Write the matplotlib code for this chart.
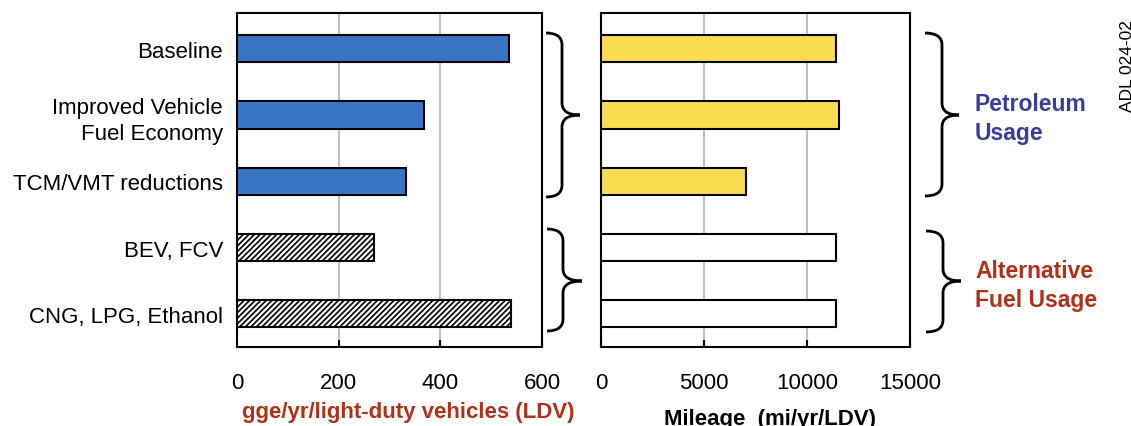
import matplotlib
matplotlib.use("Agg")
import matplotlib.pyplot as plt
from matplotlib.path import Path
from matplotlib.patches import PathPatch

plt.rcParams["font.family"] = ["Liberation Sans", "DejaVu Sans"]
plt.rcParams["hatch.linewidth"] = 1.2

categories = ["Baseline", "Improved Vehicle\nFuel Economy", "TCM/VMT reductions",
              "BEV, FCV", "CNG, LPG, Ethanol"]
fuel_use = [535, 368, 332, 270, 539]          # gge/yr/LDV
mileage = [11400, 11550, 7050, 11400, 11400]  # mi/yr/LDV
left_ticks = [0, 200, 400, 600]
right_ticks = [0, 5000, 10000, 15000]

W, H = 1131, 427
fig = plt.figure(figsize=(W / 100, H / 100), dpi=100)


def ax_rect(x0, x1, y0, y1):
    return [x0 / W, 1 - y1 / H, (x1 - x0) / W, (y1 - y0) / H]


ax1 = fig.add_axes(ax_rect(237, 542, 14, 348))
ax2 = fig.add_axes(ax_rect(601, 910, 14, 348))

ypos = list(range(len(categories)))
bar_h = 0.41

left_colors = ["#3a75c4"] * 3 + ["white"] * 2
left_hatch = [None] * 3 + ["//////"] * 2
for y, v, c, h in zip(ypos, fuel_use, left_colors, left_hatch):
    ax1.barh(y, v, height=bar_h, color=c, edgecolor="black", linewidth=1.5,
             hatch=h, zorder=3)

right_colors = ["#fcdc50"] * 3 + ["white"] * 2
ax2.barh(ypos, mileage, height=bar_h, color=right_colors, edgecolor="black",
         linewidth=1.5, zorder=3)

for ax, ticks in ((ax1, left_ticks), (ax2, right_ticks)):
    ax.set_xlim(ticks[0], ticks[-1])
    ax.set_xticks(ticks)
    ax.set_ylim(4.5, -0.54)
    ax.grid(axis="x", color="#c0c0c0", linewidth=1.5, zorder=0)
    ax.tick_params(axis="x", direction="in", length=5, width=1.5, pad=18,
                   labelsize=16)
    for s in ax.spines.values():
        s.set_linewidth(1.5)

ax1.set_yticks(ypos)
ax1.set_yticklabels(categories, fontsize=16, linespacing=1.35)
ax1.tick_params(axis="y", length=0, pad=10)
ax2.set_yticks([])

fig.text(408 / W, 1 - 413 / H, "gge/yr/light-duty vehicles (LDV)",
         ha="center", va="center", fontsize=16, fontweight="bold",
         color="#b03018")
fig.text(770 / W, 1 - 420 / H, "Mileage  (mi/yr/LDV)", ha="center",
         va="center", fontsize=16, fontweight="bold", color="black")


def brace(x0, x1, x2, yt, ym, yb, r=12):
    pts = [(x0, yt), (x1, yt), (x1, yt + r), (x1, yt + r),
           (x1, ym - r), (x1, ym), (x2, ym),
           (x1, ym), (x1, ym + r), (x1, ym + r),
           (x1, yb - r), (x1, yb), (x0, yb)]
    codes = [Path.MOVETO, Path.CURVE3, Path.CURVE3, Path.LINETO,
             Path.LINETO, Path.CURVE3, Path.CURVE3,
             Path.CURVE3, Path.CURVE3, Path.LINETO,
             Path.LINETO, Path.CURVE3, Path.CURVE3]
    pts = [(x / W, 1 - y / H) for x, y in pts]
    fig.patches.append(PathPatch(Path(pts, codes), transform=fig.transFigure,
                                 fill=False, edgecolor="black", linewidth=2))


brace(546, 562, 580, 34, 116, 198)
brace(547, 563, 582, 230, 282, 332)
brace(925, 942, 959, 34, 116, 197)
brace(926, 943, 961, 232, 282, 333)

fig.text(975 / W, 1 - 119 / H, "Petroleum\nUsage", ha="left", va="center",
         fontsize=16.5, fontweight="bold", color="#3b3b9c", linespacing=1.3)
fig.text(975 / W, 1 - 286 / H, "Alternative\nFuel Usage", ha="left",
         va="center", fontsize=16.5, fontweight="bold", color="#b03018",
         linespacing=1.3)
fig.text(1127 / W, 1 - 66 / H, "ADL 024-02", rotation=90, ha="center",
         va="center", fontsize=12.5, color="black")

fig.savefig("out.png", dpi=100)
